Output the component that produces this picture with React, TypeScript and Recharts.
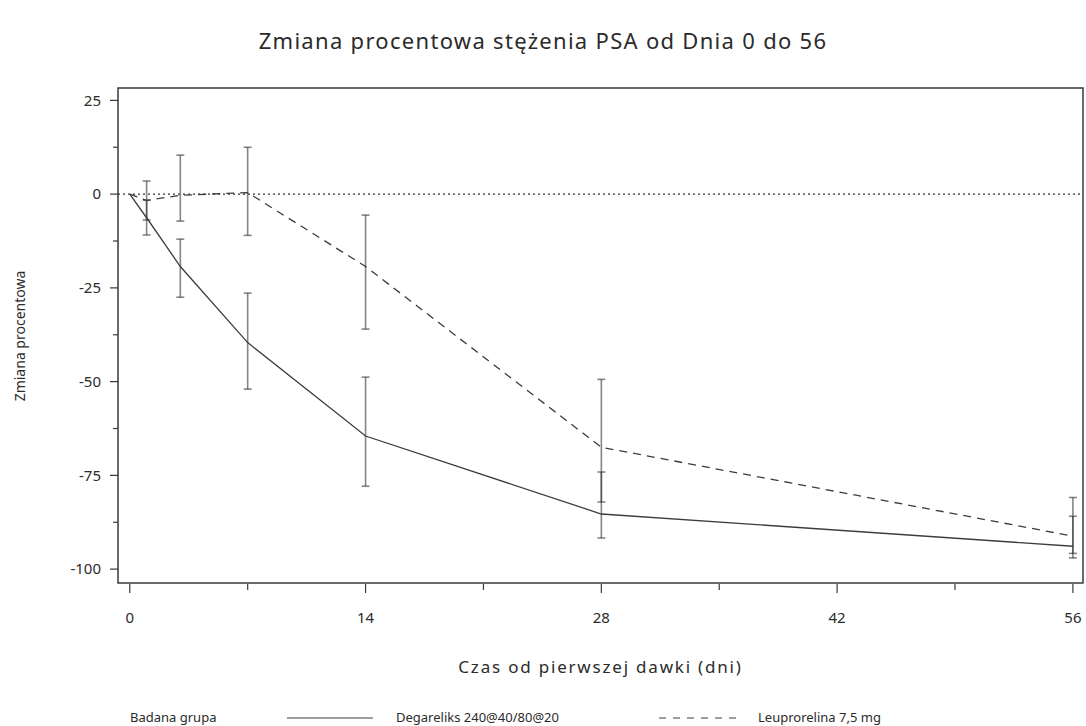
import React from 'react';
import { LineChart, Line, XAxis, YAxis, ErrorBar, ReferenceLine, ReferenceArea, Legend } from 'recharts';

// ---- Data ----
const days = [0, 1, 3, 7, 14, 28, 56];

const degareliks = [0, -6.3, -19.3, -39.6, -64.5, -85.3, -93.9];
const degareliksLow = [null, -10.9, -27.5, -52.0, -77.9, -91.7, -97.0];
const degareliksHigh = [null, -1.6, -12.0, -26.4, -48.8, -74.1, -85.9];

const leuprorelina = [0, -1.7, -0.3, 0.4, -19.3, -67.5, -91.2];
const leuprorelinaLow = [null, -6.9, -7.2, -11.0, -36.0, -82.1, -95.8];
const leuprorelinaHigh = [null, 3.5, 10.4, 12.5, -5.6, -49.4, -80.9];

const xMajorTicks = [0, 14, 28, 42, 56];
const xMinorTicks = [7, 21, 35, 49];
const yMajorTicks = [-100, -75, -50, -25, 0, 25];
const yMinorTicks = [-87.5, -62.5, -37.5, -12.5, 12.5];

const xDomain: [number, number] = [-0.7, 56.6];
const yDomain: [number, number] = [-103.7, 28.3];

const chartTitle = 'Zmiana procentowa stężenia PSA od Dnia 0 do 56';
const xAxisTitle = 'Czas od pierwszej dawki (dni)';
const yAxisTitle = 'Zmiana procentowa';
const legendTitle = 'Badana grupa';
const seriesNames = ['Degareliks 240@40/80@20', 'Leuprorelina 7,5 mg'];

// ---- Build table ----
const errPair = (v: number, lo: number | null, hi: number | null) =>
  lo == null || hi == null ? undefined : [v - lo, hi - v];

const data = days.map((d, i) => ({
  day: d,
  deg: degareliks[i],
  degErr: errPair(degareliks[i], degareliksLow[i], degareliksHigh[i]),
  leu: leuprorelina[i],
  leuErr: errPair(leuprorelina[i], leuprorelinaLow[i], leuprorelinaHigh[i]),
}));

const xTicks = [...xMajorTicks, ...xMinorTicks].sort((a, b) => a - b);
const yTicks = [...yMajorTicks, ...yMinorTicks].sort((a, b) => a - b);

const FONT = '"Noto Sans", "DejaVu Sans", sans-serif';
const TEXT = '#2b2b2b';
const AXIS = '#3a3a3a';
const LINE = '#3c3c3c';

const PLOT_LEFT = 118;
const PLOT_TOP = 88;
const PLOT_BOTTOM_GAP = 143;
const Y_AXIS_W = 60;
const X_AXIS_H = 60;

const renderXTick = (props: any) => {
  const { x, y, payload } = props;
  const major = xMajorTicks.includes(payload.value);
  return (
    <g key={`xt-${payload.value}`}>
      <line x1={x} x2={x} y1={y + 1} y2={y + (major ? 10 : 7)} stroke={AXIS} strokeWidth={1.2} />
      {major && (
        <text x={x} y={y + 40} textAnchor="middle" fontSize={15} fill={TEXT} fontFamily={FONT}>
          {String(payload.value)}
        </text>
      )}
    </g>
  );
};

const renderYTick = (props: any) => {
  const { x, y, payload } = props;
  const major = yMajorTicks.includes(payload.value);
  return (
    <g key={`yt-${payload.value}`}>
      <line x1={x - (major ? 8 : 5)} x2={x} y1={y} y2={y} stroke={AXIS} strokeWidth={1.2} />
      {major && (
        <text x={x - 17} y={y} dy="0.35em" textAnchor="end" fontSize={15} fill={TEXT} fontFamily={FONT}>
          {String(payload.value)}
        </text>
      )}
    </g>
  );
};

const LegendContent = () => (
  <svg width={1086} height={30} style={{ display: 'block' }}>
    <g fontFamily={FONT} fontSize={13} fill={TEXT}>
      <text x={130} y={26}>{legendTitle}</text>
      <line x1={287} x2={373} y1={22} y2={22} stroke={LINE} strokeWidth={1.2} />
      <text x={396} y={26}>{seriesNames[0]}</text>
      <line x1={659} x2={738} y1={22} y2={22} stroke={LINE} strokeWidth={1.2} strokeDasharray="7 7" />
      <text x={758} y={26}>{seriesNames[1]}</text>
    </g>
  </svg>
);

export default function App() {
  const plotCenterY = PLOT_TOP + (726 - PLOT_TOP - PLOT_BOTTOM_GAP) / 2;
  const plotCenterX = PLOT_LEFT + (1086 - PLOT_LEFT - 3) / 2;
  return (
    <div style={{ position: 'absolute', left: 0, top: 0, width: 1086, height: 726, background: '#fff' }}>
      <div
        style={{
          position: 'absolute',
          left: 0,
          top: 25,
          width: 1086,
          textAlign: 'center',
          fontFamily: FONT,
          fontSize: 22,
          letterSpacing: '1.3px',
          color: TEXT,
          lineHeight: '30px',
        }}
      >
        {chartTitle}
      </div>
      <LineChart
        width={1086}
        height={726}
        data={data}
        margin={{ top: PLOT_TOP, right: 3, bottom: PLOT_BOTTOM_GAP - X_AXIS_H, left: PLOT_LEFT - Y_AXIS_W }}
        style={{ position: 'absolute', left: 0, top: 0 }}
      >
        <XAxis
          dataKey="day"
          type="number"
          domain={xDomain}
          ticks={xTicks}
          interval={0}
          height={X_AXIS_H}
          tickSize={0}
          tickMargin={0}
          tickLine={false}
          axisLine={false}
          tick={renderXTick}
          allowDataOverflow
        />
        <YAxis
          type="number"
          domain={yDomain}
          ticks={yTicks}
          interval={0}
          width={Y_AXIS_W}
          tickSize={0}
          tickMargin={0}
          tickLine={false}
          axisLine={false}
          tick={renderYTick}
          allowDataOverflow
        />
        <ReferenceArea
          x1={xDomain[0]}
          x2={xDomain[1]}
          y1={yDomain[0]}
          y2={yDomain[1]}
          fill="none"
          fillOpacity={0}
          stroke={AXIS}
          strokeWidth={1.5}
          ifOverflow="visible"
        />
        <ReferenceLine y={0} stroke="#333" strokeWidth={1.2} strokeDasharray="2 3" />
        <Legend
          layout="horizontal"
          verticalAlign="middle"
          align="center"
          content={<LegendContent />}
          wrapperStyle={{ position: 'absolute', left: 0, top: 696, width: 1086, height: 30 }}
        />
        <Line
          type="linear"
          dataKey="deg"
          name={seriesNames[0]}
          stroke={LINE}
          strokeWidth={1.3}
          dot={false}
          activeDot={false}
          isAnimationActive={false}
        >
          <ErrorBar dataKey="degErr" width={4} stroke="#333" strokeOpacity={0.6} strokeWidth={1.6} isAnimationActive={false} />
        </Line>
        <Line
          type="linear"
          dataKey="leu"
          name={seriesNames[1]}
          stroke={LINE}
          strokeWidth={1.3}
          strokeDasharray="8 6"
          dot={false}
          activeDot={false}
          isAnimationActive={false}
        >
          <ErrorBar dataKey="leuErr" width={4} stroke="#333" strokeOpacity={0.6} strokeWidth={1.6} isAnimationActive={false} />
        </Line>
      </LineChart>
      <div
        style={{
          position: 'absolute',
          left: 0,
          top: 656,
          width: 1086,
          paddingLeft: plotCenterX * 2 - 1086,
          boxSizing: 'border-box',
          textAlign: 'center',
          fontFamily: FONT,
          fontSize: 17,
          letterSpacing: '1.8px',
          color: TEXT,
          lineHeight: '22px',
        }}
      >
        {xAxisTitle}
      </div>
      <div
        style={{
          position: 'absolute',
          left: 20,
          top: plotCenterY,
          transform: 'translate(-50%, -50%) rotate(-90deg)',
          whiteSpace: 'nowrap',
          fontFamily: FONT,
          fontSize: 14,
          color: TEXT,
          lineHeight: '18px',
        }}
      >
        {yAxisTitle}
      </div>
    </div>
  );
}
